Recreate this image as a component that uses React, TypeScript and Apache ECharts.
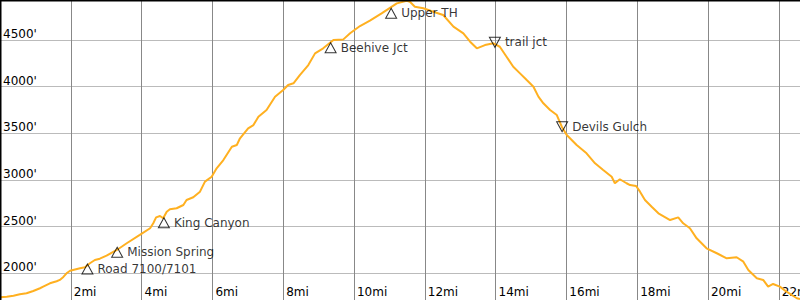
import React, { useEffect, useRef } from "react";
import * as echarts from "echarts";

// distance along trail (miles)
const miles = [0, 0.19, 0.38, 0.56, 0.75, 0.94, 1.13, 1.22, 1.41, 1.6, 1.69, 1.79, 1.88, 1.98, 2.26, 2.4, 2.54, 2.68, 2.82, 3.01, 3.3, 3.58, 3.95, 4.24, 4.33, 4.41, 4.52, 4.61, 4.71, 4.8, 4.99, 5.18, 5.27, 5.46, 5.65, 5.79, 5.98, 6.12, 6.31, 6.55, 6.69, 6.78, 7.01, 7.16, 7.3, 7.53, 7.77, 8.0, 8.14, 8.29, 8.47, 8.71, 8.9, 9.13, 9.42, 9.7, 9.89, 10.17, 10.45, 10.78, 10.92, 11.21, 11.49, 11.58, 11.72, 11.96, 12.24, 12.52, 12.81, 13.09, 13.28, 13.47, 13.7, 13.94, 14.12, 14.31, 14.5, 14.69, 14.88, 15.07, 15.21, 15.35, 15.54, 15.73, 15.87, 16.01, 16.29, 16.57, 16.81, 17.04, 17.28, 17.37, 17.51, 17.7, 17.8, 17.97, 18.08, 18.22, 18.41, 18.6, 18.93, 19.16, 19.3, 19.49, 19.68, 19.96, 20.25, 20.53, 20.81, 21.0, 21.14, 21.38, 21.56, 21.7, 21.84, 22.03, 22.22, 22.51, 22.6];

// elevation (feet)
const elevation = [1743, 1750, 1760, 1775, 1786, 1811, 1840, 1857, 1893, 1915, 1929, 1961, 2000, 2028, 2054, 2065, 2108, 2143, 2157, 2189, 2250, 2322, 2411, 2483, 2536, 2600, 2614, 2590, 2660, 2686, 2697, 2732, 2786, 2815, 2875, 2982, 3035, 3125, 3214, 3357, 3375, 3447, 3554, 3589, 3678, 3750, 3893, 3964, 4018, 4036, 4125, 4232, 4357, 4411, 4500, 4507, 4572, 4650, 4707, 4786, 4821, 4893, 4921, 4910, 4857, 4840, 4803, 4768, 4643, 4572, 4482, 4411, 4446, 4465, 4428, 4321, 4214, 4143, 4071, 4000, 3893, 3822, 3750, 3696, 3571, 3482, 3375, 3286, 3179, 3107, 3035, 2965, 3008, 2965, 2946, 2936, 2875, 2786, 2714, 2643, 2571, 2600, 2536, 2483, 2375, 2268, 2215, 2161, 2172, 2125, 2036, 1947, 1929, 1857, 1886, 1857, 1803, 1733, 1725];

// waypoints
const waypointNames = ["Road 7100/7101", "Mission Spring", "King Canyon", "Beehive Jct", "Upper TH", "trail jct", "Devils Gulch"];
const waypointMiles = [2.47, 3.31, 4.63, 9.34, 11.05, 13.98, 15.88];
const waypointElev = [2100, 2279, 2596, 4471, 4840, 4422, 3518];
const waypointDown = [false, false, false, false, false, true, true];

const FONT = "DejaVu Sans";

export default function App() {
  const ref = useRef<HTMLDivElement>(null);

  useEffect(() => {
    document.body.style.margin = "0";
    if (!ref.current) return;
    const chart = echarts.init(ref.current, null, { renderer: "svg" });

    const lineData = miles.map((m, i) => [m, elevation[i]]);
    const wpData = waypointNames.map((n, i) => ({
      name: n,
      value: [waypointMiles[i], waypointElev[i]],
      symbolRotate: waypointDown[i] ? 180 : 0,
      symbolOffset: waypointDown[i] ? [0, -5] : [0, 5],
    }));

    chart.setOption({
      animation: false,
      textStyle: { fontFamily: FONT },
      grid: {
        left: 0,
        right: 0,
        top: 0,
        bottom: 0,
        containLabel: false,
        outerBoundsMode: "none",
      },
      xAxis: {
        type: "value",
        min: 0,
        max: 22.6,
        interval: 2,
        axisLine: { show: false },
        axisTick: { show: false },
        axisLabel: {
          inside: true,
          showMinLabel: false,
          showMaxLabel: false,
          align: "left",
          margin: 2,
          padding: [0, 0, 0, 3],
          color: "#000",
          fontSize: 12,
          fontFamily: FONT,
          formatter: (v: number) => v + "mi",
        },
        splitLine: {
          show: true,
          showMinLine: false,
          showMaxLine: false,
          lineStyle: { color: "#888888", width: 1 },
        },
      },
      yAxis: {
        type: "value",
        min: 1714,
        max: 4929,
        splitNumber: 6,
        axisLine: { show: false },
        axisTick: { show: false },
        axisLabel: {
          inside: true,
          showMinLabel: false,
          showMaxLabel: false,
          verticalAlign: "bottom",
          margin: 3,
          color: "#000",
          fontSize: 12,
          fontFamily: FONT,
          formatter: (v: number) => v + "'",
        },
        splitLine: {
          show: true,
          showMinLine: false,
          showMaxLine: false,
          lineStyle: { color: "#bbbbbb", width: 1 },
        },
      },
      graphic: [
        { type: "line", shape: { x1: 0, y1: 0.75, x2: 800, y2: 0.75 }, style: { stroke: "#000", lineWidth: 1.5 }, z: 100 },
        { type: "line", shape: { x1: 0.75, y1: 0, x2: 0.75, y2: 300 }, style: { stroke: "#000", lineWidth: 1.5 }, z: 100 },
      ],
      series: [
        {
          type: "line",
          data: lineData,
          showSymbol: false,
          lineStyle: { color: "#FFB020", width: 2 },
          z: 3,
        },
        {
          type: "scatter",
          data: wpData,
          symbol: "triangle",
          symbolSize: [11, 10],
          itemStyle: { color: "rgba(0,0,0,0)", borderColor: "#000", borderWidth: 1 },
          label: {
            show: true,
            position: "right",
            distance: 4,
            formatter: "{b}",
            color: "#000",
            fontSize: 12,
            fontFamily: FONT,
          },
          z: 4,
        },
      ],
    });

    return () => {
      chart.dispose();
    };
  }, []);

  return <div ref={ref} style={{ width: 800, height: 300 }} />;
}
